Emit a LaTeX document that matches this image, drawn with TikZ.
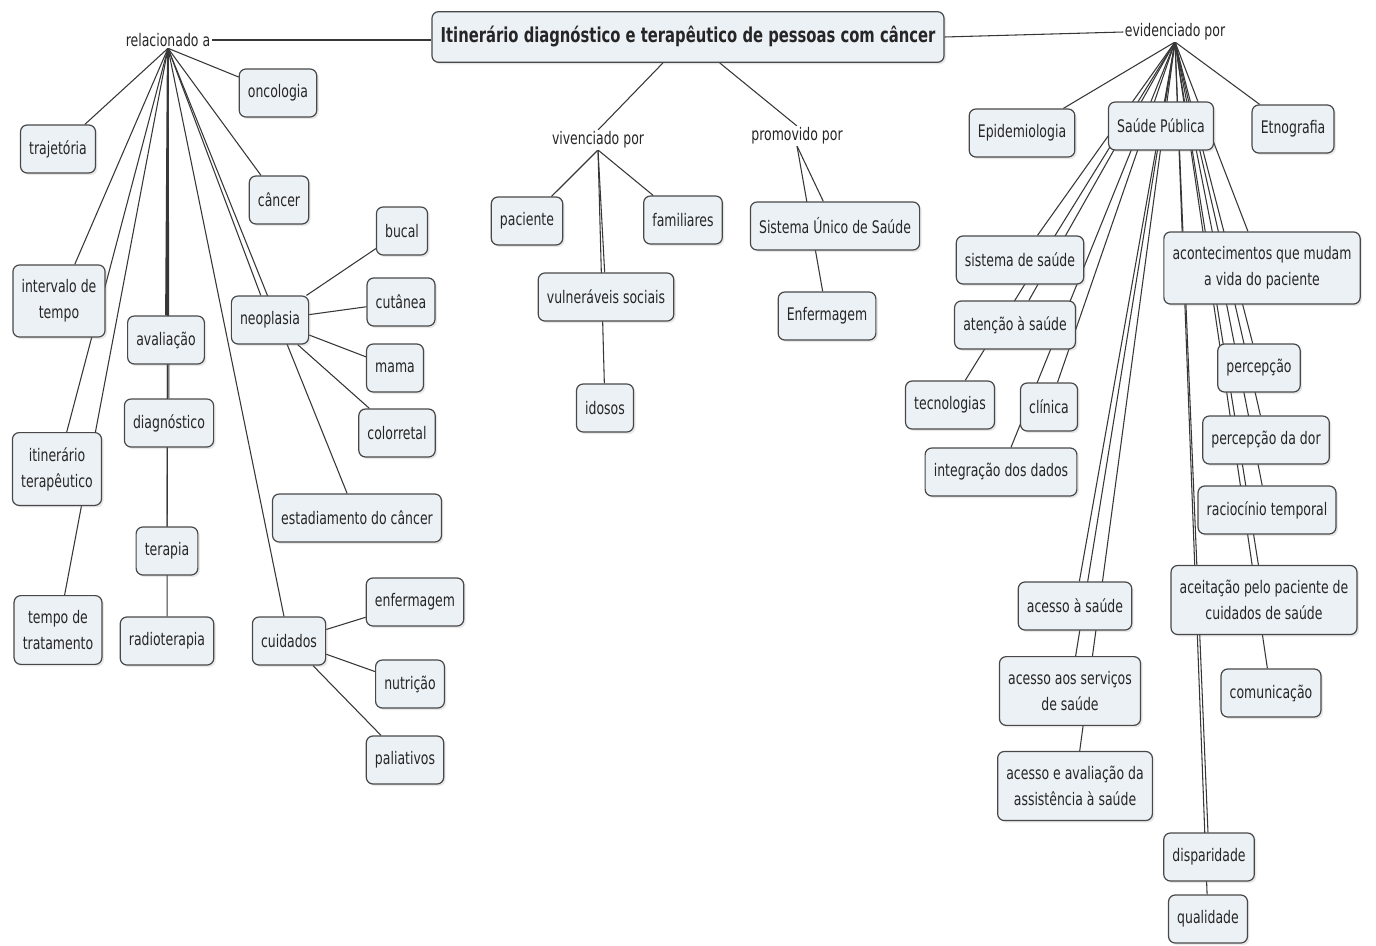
\documentclass[tikz,border=0pt]{standalone}
\usepackage{fontspec}
\newfontfamily\cmapfont{DejaVu Sans}[FakeStretch=0.72]
\usetikzlibrary{backgrounds,shadows}
\definecolor{boxfill}{RGB}{236,241,246}
\definecolor{boxline}{RGB}{72,72,72}
\definecolor{linkline}{RGB}{55,55,55}

\begin{document}
\begin{tikzpicture}[x=0.75pt,y=-0.75pt,
  every node/.style={font=\cmapfont\fontsize{13}{19.5}\selectfont, text=black!85},
  concept/.style={draw=boxline, fill=boxfill, rounded corners=5pt, line width=0.9pt,
    inner xsep=6.5pt, inner ysep=11pt, minimum height=36pt, align=center,
    drop shadow={opacity=0.18, shadow xshift=1.5pt, shadow yshift=-1.5pt}},
  linkphrase/.style={fill=white, inner sep=1pt},
  link/.style={draw=linkline, line width=0.8pt}]
\useasboundingbox (0,0) rectangle (1376,945);

% main concept
\node[concept, minimum height=38pt, inner ysep=6pt,
  font=\cmapfont\bfseries\fontsize{15.4}{20}\selectfont] (title) at (688,37)
  {Itinerário diagnóstico e terapêutico de pessoas com câncer};

% left branch
\node[linkphrase] (rel) at (168,40) {relacionado a};
\node[concept] (traj) at (58,149) {trajetória};
\node[concept] (onco) at (278,93) {oncologia};
\node[concept] (canc) at (279,200) {câncer};
\node[concept] (interv) at (59,301) {intervalo de\\tempo};
\node[concept] (aval) at (166,340) {avaliação};
\node[concept] (diag) at (169,423) {diagnóstico};
\node[concept] (terap) at (167,551) {terapia};
\node[concept] (radio) at (167,641) {radioterapia};
\node[concept] (itin) at (57,469) {itinerário\\terapêutico};
\node[concept] (tempo) at (58,630) {tempo de\\tratamento};
\node[concept] (neo) at (270,320) {neoplasia};
\node[concept] (bucal) at (402,231) {bucal};
\node[concept] (cutan) at (401,302) {cutânea};
\node[concept] (mama) at (395,368) {mama};
\node[concept] (color) at (397,433) {colorretal};
\node[concept] (estad) at (357,518) {estadiamento do câncer};
\node[concept] (cuid) at (289,641) {cuidados};
\node[concept] (enferm) at (415,602) {enfermagem};
\node[concept] (nutri) at (410,684) {nutrição};
\node[concept] (palia) at (405,760) {paliativos};

% middle branch
\node[linkphrase] (viv) at (598,140) {vivenciado por};
\node[linkphrase] (prom) at (797,136) {promovido por};
\node[concept] (pac) at (527,221) {paciente};
\node[concept] (famil) at (683,220) {familiares};
\node[concept] (vuln) at (606,297) {vulneráveis sociais};
\node[concept] (idosos) at (605,408) {idosos};
\node[concept] (sus) at (835,226) {Sistema Único de Saúde};
\node[concept] (enfsus) at (827,316) {Enfermagem};

% right branch
\node[linkphrase] (evid) at (1175,32) {evidenciado por};
\node[concept] (epid) at (1022,133) {Epidemiologia};
\node[concept] (saudep) at (1161,126) {Saúde Pública};
\node[concept] (etno) at (1293,129) {Etnografia};
\node[concept] (sistema) at (1020,260) {sistema de saúde};
\node[concept] (atenc) at (1015,325) {atenção à saúde};
\node[concept] (tecno) at (950,405) {tecnologias};
\node[concept] (clin) at (1049,407) {clínica};
\node[concept] (integ) at (1001,472) {integração dos dados};
\node[concept] (acesso) at (1075,606) {acesso à saúde};
\node[concept] (servic) at (1070,691) {acesso aos serviços\\de saúde};
\node[concept] (assist) at (1075,786) {acesso e avaliação da\\assistência à saúde};
\node[concept] (acont) at (1262,268) {acontecimentos que mudam\\a vida do paciente};
\node[concept] (perc) at (1259,368) {percepção};
\node[concept] (dor) at (1266,440) {percepção da dor};
\node[concept] (racio) at (1267,510) {raciocínio temporal};
\node[concept] (aceit) at (1264,600) {aceitação pelo paciente de\\cuidados de saúde};
\node[concept] (comun) at (1271,693) {comunicação};
\node[concept] (dispar) at (1209,857) {disparidade};
\node[concept] (qualid) at (1208,919) {qualidade};

% links, behind the boxes
\begin{scope}[on background layer]
\draw[link] (rel.east) -- (rel.east -| title.west);
\draw[link] (title.east) -- (evid.west);
\draw[link] (title) -- (viv.north);
\draw[link] (title) -- (prom.north);
\foreach \n in {traj,onco,canc,interv,itin,tempo,diag,terap,radio,neo,estad,cuid}
  \draw[link] (rel.south) -- (\n);
\draw[link, line width=1.6pt] (rel.south) -- (aval);
\foreach \n in {bucal,cutan,mama,color}
  \draw[link] (neo) -- (\n);
\foreach \n in {enferm,nutri,palia}
  \draw[link] (cuid) -- (\n);
\foreach \n in {pac,famil,vuln,idosos}
  \draw[link] (viv.south) -- (\n);
\foreach \n in {sus,enfsus}
  \draw[link] (prom.south) -- (\n);
\foreach \n in {epid,saudep,etno,sistema,atenc,tecno,clin,integ,acesso,servic,assist,
    acont,perc,dor,racio,aceit,comun,dispar,qualid}
  \draw[link] (evid.south) -- (\n);
\end{scope}
\end{tikzpicture}
\end{document}
